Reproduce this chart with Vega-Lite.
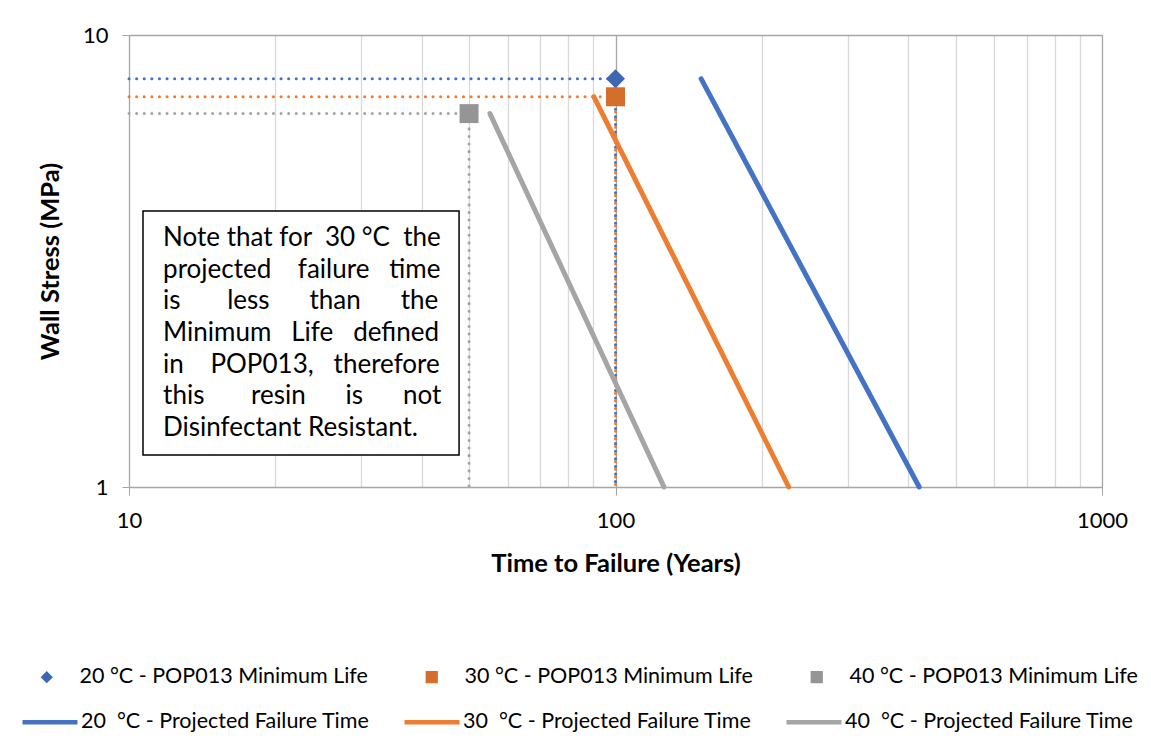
{
  "$schema": "https://vega.github.io/schema/vega-lite/v6.json",
  "autosize": {"type": "none"},
  "width": 973,
  "height": 452,
  "padding": {"left": 129, "top": 35, "right": 49, "bottom": 267},
  "background": "white",
  "config": {
    "font": "Lato",
    "view": {"stroke": null},
    "axis": {"labelFont": "Lato", "titleFont": "Lato", "labelColor": "#000000", "titleColor": "#000000", "domainColor": "#A6A6A6", "tickColor": "#A6A6A6"},
    "legend": {"labelFont": "Lato", "labelFontSize": 21.5, "labelColor": "#000000", "padding": 0, "labelLimit": 500}
  },
  "datasets": {
    "minlife": [
      {"series": "20 °C - POP013 Minimum Life", "t": 100, "s": 8.0},
      {"series": "30 °C - POP013 Minimum Life", "t": 100, "s": 7.3},
      {"series": "40 °C - POP013 Minimum Life", "t": 50, "s": 6.7}
    ],
    "droplines": [
      {"temp": "20", "t1": 10, "t2": 100, "s1": 8.0, "s2": 8.0},
      {"temp": "20", "t1": 100, "t2": 100, "s1": 8.0, "s2": 1.0},
      {"temp": "30", "t1": 10, "t2": 100, "s1": 7.3, "s2": 7.3},
      {"temp": "30", "t1": 100, "t2": 100, "s1": 7.3, "s2": 1.0},
      {"temp": "40", "t1": 10, "t2": 50, "s1": 6.7, "s2": 6.7},
      {"temp": "40", "t1": 50, "t2": 50, "s1": 6.7, "s2": 1.0}
    ],
    "projected": [
      {"series": "20  °C - Projected Failure Time", "t": 150, "s": 8.0},
      {"series": "20  °C - Projected Failure Time", "t": 421, "s": 1.0},
      {"series": "30  °C - Projected Failure Time", "t": 90.3, "s": 7.3},
      {"series": "30  °C - Projected Failure Time", "t": 227, "s": 1.0},
      {"series": "40  °C - Projected Failure Time", "t": 55.2, "s": 6.7},
      {"series": "40  °C - Projected Failure Time", "t": 125.8, "s": 1.0}
    ],
    "note": [
      {"x": 10.685, "x2": 47.69, "y": 4.079, "y2": 1.177, "tx": 11.75, "ty": 3.556,
       "note": "Note that for\u00a0\u00a030 °C\u00a0\u00a0the\nprojected\u00a0\u00a0\u00a0\u00a0failure\u00a0\u00a0\u00a0time\nis\u00a0\u00a0\u00a0\u00a0\u00a0\u00a0\u00a0less\u00a0\u00a0\u00a0\u00a0\u00a0\u00a0than\u00a0\u00a0\u00a0\u00a0\u00a0\u00a0the\nMinimum\u00a0\u00a0\u00a0Life\u00a0\u00a0\u00a0defined\nin\u00a0\u00a0\u00a0\u00a0POP013,\u00a0\u00a0\u00a0therefore\nthis\u00a0\u00a0\u00a0\u00a0\u00a0\u00a0\u00a0resin\u00a0\u00a0\u00a0\u00a0\u00a0\u00a0is\u00a0\u00a0\u00a0\u00a0\u00a0\u00a0not\nDisinfectant Resistant."}
    ]
  },
  "layer": [
    {
      "data": {"name": "droplines"},
      "mark": {"type": "rule", "strokeWidth": 3, "strokeDash": [0.1, 7.5], "strokeCap": "round"},
      "encoding": {
        "x": {"field": "t1", "type": "quantitative", "scale": {"type": "log", "domain": [10, 1000], "nice": false}},
        "x2": {"field": "t2"},
        "y": {"field": "s1", "type": "quantitative", "scale": {"type": "log", "domain": [1, 10], "nice": false}},
        "y2": {"field": "s2"},
        "color": {"field": "temp", "type": "nominal", "scale": {"domain": ["20", "30", "40"], "range": ["#4472C4", "#ED7D31", "#A5A5A5"]}, "legend": null}
      }
    },
    {
      "data": {"name": "projected"},
      "mark": {"type": "line", "strokeWidth": 5, "strokeCap": "round"},
      "encoding": {
        "x": {"field": "t", "type": "quantitative",
          "axis": {
            "title": "Time to Failure (Years)", "titleFontSize": 25.5, "titleFontWeight": "bold", "titlePadding": 20,
            "values": [10, 20, 30, 40, 50, 60, 70, 80, 90, 100, 200, 300, 400, 500, 600, 700, 800, 900, 1000],
            "format": "d",
            "labelExpr": "(datum.value == 10 || datum.value == 100 || datum.value == 1000) ? datum.label : ''",
            "labelFontSize": 22, "labelPadding": 15, "labelFlush": false, "labelOverlap": false,
            "tickSize": 8,
            "tickOpacity": {"condition": {"test": "datum.value == 10 || datum.value == 100 || datum.value == 1000", "value": 1}, "value": 0},
            "grid": true,
            "gridColor": {"condition": {"test": "datum.value == 10 || datum.value == 100 || datum.value == 1000", "value": "#A6A6A6"}, "value": "#D9D9D9"},
            "gridWidth": 1.3
          }
        },
        "y": {"field": "s", "type": "quantitative",
          "axis": {
            "title": "Wall Stress (MPa)", "titleFontSize": 25.5, "titleFontWeight": "bold", "titlePadding": 19,
            "values": [1, 10], "format": "d",
            "labelFontSize": 22, "labelPadding": 14, "labelFlush": false,
            "tickSize": 7, "grid": true, "gridColor": "#A6A6A6", "gridWidth": 1.3
          }
        },
        "stroke": {"field": "series", "type": "nominal",
          "scale": {"domain": ["20  °C - Projected Failure Time", "30  °C - Projected Failure Time", "40  °C - Projected Failure Time"], "range": ["#4472C4", "#ED7D31", "#A5A5A5"]},
          "legend": {"title": null, "orient": "none", "legendX": -109, "legendY": 657, "direction": "horizontal", "columns": 3,
            "labelExpr": "replace(datum.label, '  ', '\u00a0 ')",
            "symbolType": "stroke", "symbolSize": 3025, "symbolStrokeWidth": 4.5, "labelOffset": 1, "columnPadding": 25, "gridAlign": "all"}
        }
      }
    },
    {
      "data": {"name": "minlife"},
      "mark": {"type": "point", "filled": true, "opacity": 1, "size": 360},
      "encoding": {
        "x": {"field": "t", "type": "quantitative"},
        "y": {"field": "s", "type": "quantitative"},
        "fill": {"field": "series", "type": "nominal",
          "scale": {"domain": ["20 °C - POP013 Minimum Life", "30 °C - POP013 Minimum Life", "40 °C - POP013 Minimum Life"], "range": ["#3F66B1", "#D46E2B", "#959595"]},
          "legend": {"title": null, "orient": "none", "legendX": -93, "legendY": 631, "direction": "horizontal", "columns": 3,
            "symbolSize": 150, "labelOffset": 22, "columnPadding": 53, "gridAlign": "all"}
        },
        "shape": {"field": "series", "type": "nominal",
          "scale": {"domain": ["20 °C - POP013 Minimum Life", "30 °C - POP013 Minimum Life", "40 °C - POP013 Minimum Life"], "range": ["diamond", "square", "square"]},
          "legend": {"title": null, "orient": "none", "legendX": -93, "legendY": 631, "direction": "horizontal", "columns": 3,
            "symbolSize": 150, "labelOffset": 22, "columnPadding": 53, "gridAlign": "all"}
        }
      }
    },
    {
      "data": {"name": "note"},
      "mark": {"type": "rect", "fill": "white", "stroke": "#000000", "strokeWidth": 1.5},
      "encoding": {
        "x": {"field": "x", "type": "quantitative"},
        "x2": {"field": "x2"},
        "y": {"field": "y", "type": "quantitative"},
        "y2": {"field": "y2"}
      }
    },
    {
      "data": {"name": "note"},
      "mark": {"type": "text", "align": "left", "baseline": "middle", "lineBreak": "\n", "lineHeight": 31.7, "fontSize": 26, "font": "Lato", "color": "#000000"},
      "encoding": {
        "x": {"field": "tx", "type": "quantitative"},
        "y": {"field": "ty", "type": "quantitative"},
        "text": {"field": "note"}
      }
    }
  ]
}
